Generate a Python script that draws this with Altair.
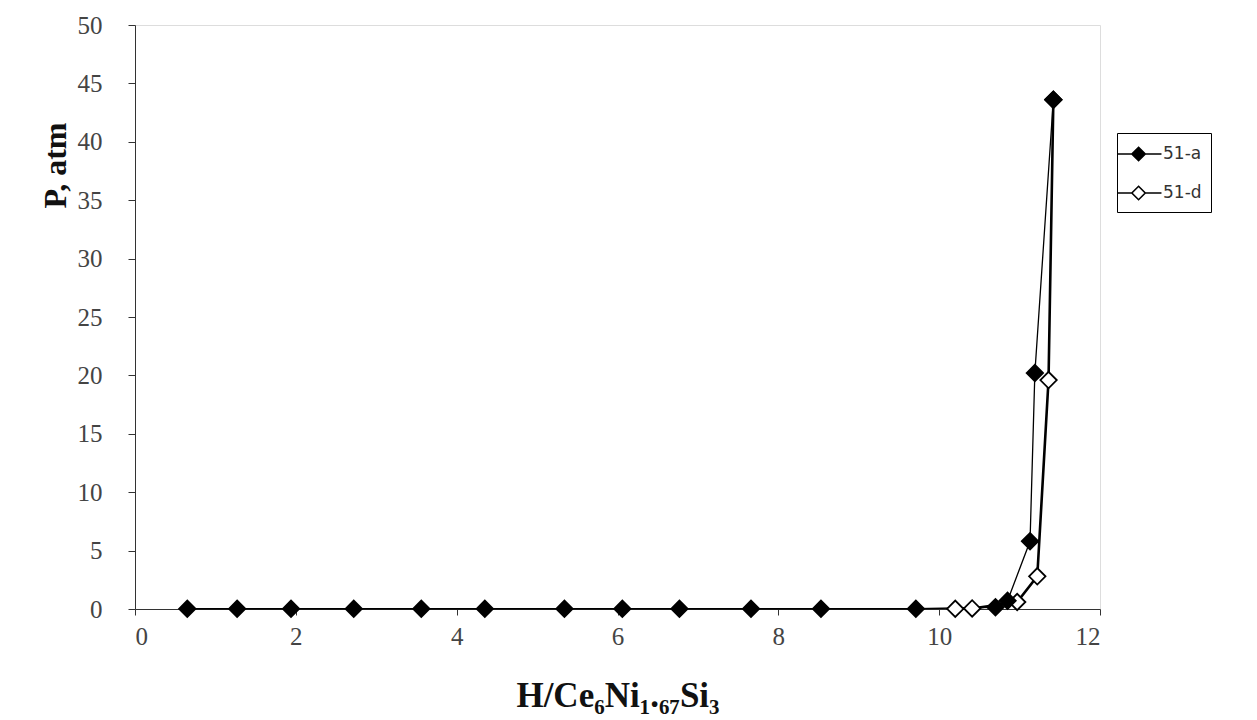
import altair as alt
import pandas as pd

# series 51-a (filled diamonds)
a_x = [0.65, 1.27, 1.94, 2.72, 3.56, 4.35, 5.34, 6.06, 6.77, 7.66, 8.53, 9.71,
       10.70, 10.85, 11.13, 11.19, 11.42]
a_y = [0.02, 0.02, 0.02, 0.02, 0.02, 0.02, 0.02, 0.02, 0.02, 0.02, 0.02, 0.02,
       0.15, 0.7, 5.8, 20.2, 43.6]
# series 51-d (open diamonds)
d_x = [11.42, 11.36, 11.22, 10.97, 10.41, 10.20]
d_y = [43.6, 19.6, 2.8, 0.6, 0.05, 0.02]

series = ["51-a", "51-d"]
x_ticks = [0, 2, 4, 6, 8, 10, 12]
y_ticks = [0, 5, 10, 15, 20, 25, 30, 35, 40, 45, 50]

rows = []
for i, (x, y) in enumerate(zip(d_x, d_y)):
    rows.append({"s": "51-d", "x": x, "y": y, "o": i})
for i, (x, y) in enumerate(zip(a_x, a_y)):
    rows.append({"s": "51-a", "x": x, "y": y, "o": i})
df = pd.DataFrame(rows)

xs = alt.Scale(domain=[0, 12], nice=False, zero=False)
ys = alt.Scale(domain=[0, 50], nice=False)

xax = alt.Axis(values=x_ticks, format="d", title="H/Ce₆Ni₁.₆₇Si₃", grid=False,
               labelFont="Liberation Serif", labelFontSize=25, labelColor="#444",
               titleFont="Liberation Serif", titleFontSize=35, titleFontWeight="bold",
               titleColor="#111", tickColor="#333", domainColor="#333", tickSize=6,
               labelPadding=9, titleY=69)
yax = alt.Axis(values=y_ticks, title="P, atm", grid=False,
               labelFont="Liberation Serif", labelFontSize=25, labelColor="#444",
               titleFont="Liberation Serif", titleFontSize=32, titleFontWeight="bold",
               titleColor="#111", tickColor="#333", domainColor="#333", tickSize=7,
               labelPadding=26, titleX=-63, titleY=140, titleAngle=270)

base = alt.Chart(df)

line_a = base.transform_filter(alt.datum.s == "51-a").mark_line(
    color="black", strokeWidth=1.3).encode(
    x=alt.X("x:Q", scale=xs, axis=xax),
    y=alt.Y("y:Q", scale=ys, axis=yax),
    order="o:Q",
)
line_d = base.transform_filter(alt.datum.s == "51-d").mark_line(
    color="black", strokeWidth=2.6).encode(
    x=alt.X("x:Q", scale=xs),
    y=alt.Y("y:Q", scale=ys),
    order="o:Q",
)

points = base.mark_point(shape="diamond", filled=True, size=270, stroke="black",
                         strokeWidth=1.8, opacity=1).encode(
    x=alt.X("x:Q", scale=xs),
    y=alt.Y("y:Q", scale=ys),
    fill=alt.Fill("s:N", scale=alt.Scale(domain=series, range=["black", "white"]),
                  legend=alt.Legend(
                      title=None, orient="none", legendX=982, legendY=108,
                      symbolType="M-1.8,0H-0.55M0.65,0H2.1M0.05,-0.6L0.65,0L0.05,0.6L-0.55,0Z",
                      symbolSize=500, symbolStrokeColor="black", symbolStrokeWidth=1.6,
                      labelFont="DejaVu Sans", labelFontSize=17, labelColor="#333",
                      labelOffset=13, rowPadding=17, padding=9, strokeColor="black")),
)

chart = alt.layer(line_a, line_d, points).properties(
    width=965, height=584,
    padding={"left": 135, "top": 25, "right": 157, "bottom": 111},
    autosize=alt.AutoSizeParams(type="none"),
).configure_view(stroke="#333", strokeWidth=1.5).configure(background="white")

chart.save("out.html", embed_options={"renderer": "svg", "actions": False})
